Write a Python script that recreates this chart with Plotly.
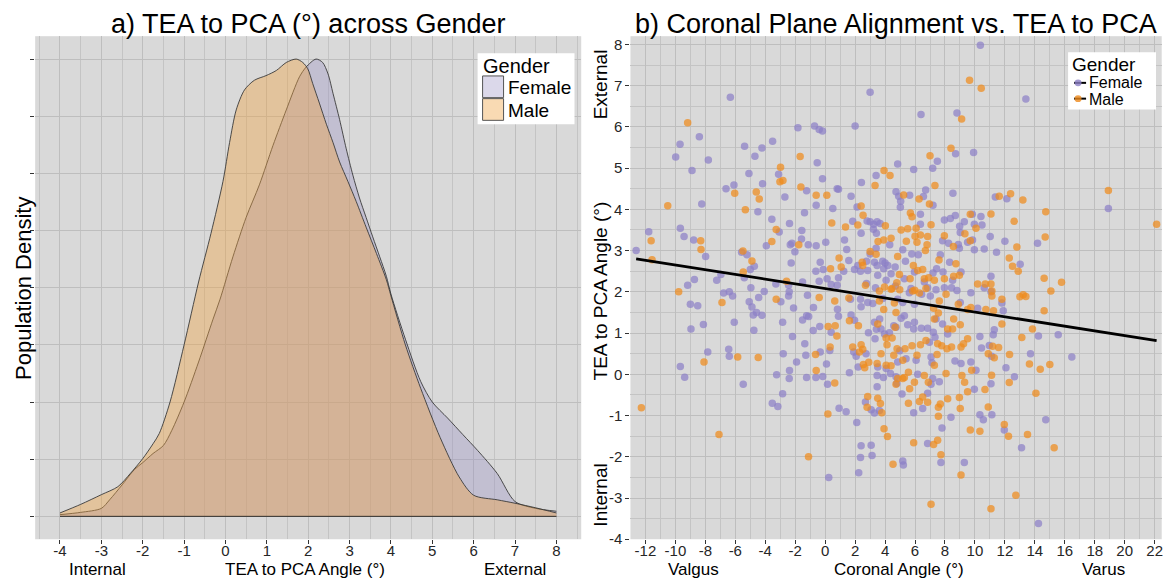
import plotly.graph_objects as go

W, H = 1169, 587
FONT = "Liberation Sans, Arial, Helvetica, sans-serif"

# ---------------- Panel a: density of TEA to PCA angle ----------------
female_density_angle = [-4, -3.5, -3, -2.8, -2.5, -2.2, -2, -1.75, -1.5, -1.3,
                        -1, -0.65, -0.3, -0.13, 0.18, 0.5, 0.82, 1.15, 1.47, 1.79,
                        1.95, 2.19, 2.35, 2.48, 2.6, 2.76, 2.92, 3.08, 3.24, 3.4,
                        3.56, 3.73, 3.89, 4.0, 4.35, 4.72, 5.0, 5.37, 5.74, 6.1,
                        6.57, 7.0, 7.5, 8.0]
female_density = [0.0015, 0.0035, 0.007, 0.0145, 0.0275, 0.041, 0.047, 0.055, 0.062, 0.075,
                  0.1, 0.135, 0.1725, 0.19, 0.227, 0.2615, 0.29, 0.3245, 0.3555, 0.3845,
                  0.393, 0.4, 0.397, 0.387, 0.37, 0.347, 0.3215, 0.2985, 0.2785, 0.2615,
                  0.2445, 0.227, 0.21, 0.1945, 0.155, 0.118, 0.1, 0.086, 0.0715, 0.0575,
                  0.0375, 0.013, 0.007, 0.0045]

male_density_angle = [-4, -3.5, -3, -2.6, -2.3, -2, -1.75, -1.6, -1.34, -1.0,
                      -0.65, -0.35, -0.06, 0.1, 0.26, 0.46, 0.7, 0.98, 1.23, 1.47,
                      1.71, 1.87, 1.99, 2.11, 2.27, 2.44, 2.6, 2.76, 2.96, 3.16,
                      3.4, 3.65, 3.89, 4.0, 4.35, 4.72, 5.19, 5.65, 6.0, 6.57,
                      7.0, 7.5, 8.0]
male_density = [0.003, 0.0105, 0.019, 0.026, 0.0375, 0.0505, 0.0635, 0.0725, 0.1, 0.15,
                0.205, 0.2475, 0.293, 0.327, 0.3555, 0.373, 0.3815, 0.3855, 0.39, 0.397,
                0.4, 0.397, 0.3915, 0.3785, 0.3615, 0.343, 0.327, 0.31, 0.293, 0.2755,
                0.253, 0.23, 0.207, 0.193, 0.15, 0.112, 0.069, 0.0345, 0.0185, 0.0145,
                0.0115, 0.0075, 0.003]

density_ticks = [-4, -3, -2, -1, 0, 1, 2, 3, 4, 5, 6, 7, 8]

# ---------------- Panel b: scatter (coronal angle, TEA to PCA) ----------------
female_points = [
    (-12.62, 3.0), (-11.78, 3.46), (-9.98, 5.27), (-9.69, 5.58), (-8.89, 4.94), (-8.4, 5.76),
    (-8.24, 4.13), (-7.8, 5.2), (-9.67, 3.54), (-9.42, 3.34), (-8.78, 3.26), (-7.98, 2.86),
    (-9.18, 2.16), (-8.73, 2.3), (-7.24, 2.28), (-6.96, 2.42), (-6.33, 6.72), (-6.62, 4.5),
    (-6.09, 4.59), (-5.38, 5.53), (-4.69, 5.29), (-4.22, 5.49), (-5.09, 4.87), (-4.18, 4.62),
    (-4.49, 3.94), (-3.51, 5.65), (-3.56, 3.76), (-3.93, 3.12), (-3.07, 3.45), (-3.11, 4.85),
    (-2.69, 4.3), (-2.38, 3.66), (-2.33, 3.14), (-2.22, 3.18), (-2.02, 2.97), (-2.27, 2.7),
    (-1.56, 3.49), (-1.58, 3.28), (-1.38, 3.92), (-1.24, 4.45), (-1.13, 3.14), (-1.82, 5.98),
    (-0.71, 6.02), (-0.4, 5.94), (-0.18, 5.9), (-0.53, 5.13), (-0.18, 4.74), (-0.6, 4.1),
    (-0.6, 3.12), (0.04, 3.2), (0.51, 4.02), (0.8, 4.5), (-0.33, 2.72), (-0.62, 2.5),
    (-0.13, 2.54), (-0.4, 2.26), (0.13, 2.32), (0.4, 2.18), (-5.58, 2.96), (-5.22, 2.9),
    (-5.0, 2.54), (-4.73, 2.62), (-5.4, 2.34), (-3.29, 2.19), (-1.51, 2.24), (-2.44, 2.16),
    (10.36, 7.98), (3.0, 6.84), (2.0, 6.02), (6.4, 6.3), (8.8, 6.34), (9.91, 5.38),
    (8.71, 5.35), (4.84, 5.1), (5.91, 4.97), (7.49, 5.17), (7.18, 5.0), (3.4, 4.82),
    (2.42, 4.65), (0.89, 4.49), (1.73, 4.32), (4.73, 4.43), (4.91, 4.32), (5.04, 4.2),
    (6.71, 4.47), (6.56, 4.31), (5.64, 4.34), (5.02, 4.05), (7.2, 4.1), (8.53, 4.39),
    (6.36, 3.88), (2.13, 4.06), (1.84, 3.71), (2.8, 3.72), (3.0, 3.7), (3.24, 3.64),
    (3.47, 3.7), (3.67, 3.66), (2.4, 3.42), (3.22, 3.52), (3.42, 3.42), (1.29, 3.26),
    (4.31, 3.14), (3.4, 3.06), (1.44, 3.03), (6.36, 3.64), (7.96, 3.74), (8.36, 3.78),
    (8.69, 3.85), (8.98, 3.59), (9.29, 3.7), (9.02, 3.44), (9.82, 3.88), (10.4, 3.83),
    (9.96, 3.64), (10.47, 3.62), (7.84, 3.24), (8.24, 3.18), (8.89, 3.15), (9.51, 3.2),
    (9.96, 3.02), (10.62, 3.04), (11.02, 3.34), (8.96, 3.06), (9.84, 3.26), (5.18, 3.02),
    (5.78, 2.92), (6.22, 2.9), (5.36, 2.74), (4.67, 2.6), (7.69, 2.9), (8.31, 2.72),
    (7.44, 2.56), (7.2, 2.46), (7.87, 2.48), (8.51, 2.28), (9.07, 2.48), (2.76, 2.74),
    (3.0, 2.92), (3.29, 2.72), (3.47, 2.64), (3.84, 2.74), (4.0, 2.7), (4.18, 2.64),
    (3.91, 2.56), (2.18, 2.64), (1.96, 2.54), (2.36, 2.5), (1.58, 2.76), (1.24, 2.5),
    (2.84, 2.52), (3.51, 2.4), (4.07, 2.28), (4.4, 2.44), (5.29, 2.32), (5.96, 2.48),
    (6.62, 2.24), (6.84, 2.1), (5.73, 2.08), (4.69, 2.14), (3.36, 2.1), (2.76, 2.2),
    (0.89, 2.34), (0.8, 2.16),
    (13.4, 6.68), (11.36, 4.3), (12.13, 4.26), (18.91, 4.02), (12.0, 3.23), (11.44, 2.96),
    (14.18, 3.18), (13.02, 2.67), (11.07, 2.38),
    (-9.0, 1.7), (-8.51, 1.66), (-8.96, 1.1), (-8.13, 1.21), (-7.84, 0.54), (-9.67, 0.19),
    (-9.38, -0.07), (-6.78, 1.97), (-6.4, 2.0), (-6.18, 1.9), (-6.07, 1.26), (-6.44, 0.61),
    (-6.4, 0.44), (-5.47, -0.24), (-4.96, 2.1), (-5.07, 1.76), (-4.89, 1.63), (-4.58, 1.5),
    (-4.8, 1.44), (-4.22, 1.43), (-4.44, 1.86), (-4.07, 2.01), (-4.76, 1.07), (-2.96, 1.76),
    (-2.44, 1.9), (-2.4, 2.0), (-2.84, 1.26), (-2.11, 1.61), (-2.18, 0.92), (-2.8, 0.5),
    (-3.24, -0.01), (-2.38, 0.09), (-2.4, -0.1), (-1.91, 0.3), (-2.84, -0.47), (-3.53, -0.7),
    (-3.16, -0.78), (-1.18, 1.92), (-0.78, 1.62), (-1.51, 1.32), (-1.24, 1.42), (-1.1, 1.4),
    (-0.8, 1.06), (-0.36, 1.16), (-1.36, 0.74), (-1.29, 0.46), (-1.24, -0.08), (-0.62, -0.08),
    (-0.16, -0.05), (-0.33, 0.54), (0.09, 0.25), (0.16, -0.24), (0.31, 0.58), (0.4, 1.02),
    (0.82, 1.58), (0.93, -0.82), (0.24, -2.5),
    (0.89, 1.41), (1.73, 1.44), (1.96, 1.31), (2.4, 1.64), (1.69, 1.82), (2.36, 1.82),
    (2.84, 1.74), (3.18, 1.72), (3.84, 1.84), (4.84, 1.82), (5.18, 1.74), (5.62, 1.98),
    (5.96, 1.7), (6.44, 1.94), (7.4, 2.05), (7.02, 1.9), (7.96, 2.1), (8.44, 2.1),
    (8.8, 2.03), (9.02, 1.74), (9.73, 1.98), (10.18, 1.6), (10.62, 2.1), (11.07, 2.0),
    (3.29, 1.26), (2.89, 1.01), (3.42, 1.09), (3.64, 1.34), (3.73, 1.1), (3.96, 0.98),
    (3.33, 0.86), (4.29, 1.01), (4.58, 1.18), (4.73, 1.14), (5.07, 1.36), (5.29, 1.42),
    (5.51, 1.2), (5.96, 1.26), (5.91, 1.1), (6.42, 1.12), (6.84, 1.12), (7.22, 1.02),
    (7.33, 0.9), (6.96, 0.78), (7.84, 1.22), (8.18, 0.98), (7.4, 1.34), (10.33, 0.92),
    (10.44, 0.64), (10.96, 0.7), (11.11, 0.44), (1.91, 0.54), (2.07, 0.44), (2.73, 0.5),
    (2.2, 0.18), (1.62, 0.04), (3.51, 0.18), (3.47, -0.03), (3.89, -0.08), (4.36, 0.02),
    (4.07, 0.14), (4.73, -0.06), (4.98, 0.57), (4.84, 0.3), (5.4, 0.38), (6.07, 0.34),
    (6.18, 0.0), (7.07, 0.42), (7.13, 0.28), (7.18, -0.1), (7.07, -0.24), (6.84, -0.46),
    (7.62, -0.18), (4.78, -0.22), (5.13, -0.48), (3.47, -0.3), (8.67, 0.32), (9.07, 0.26),
    (9.73, 0.3), (10.07, 0.1), (9.96, -0.36), (11.07, -0.23), (2.69, -0.67), (3.29, -0.94),
    (3.07, -0.86), (3.62, -0.88), (1.4, -0.91), (5.91, -0.93), (6.51, -0.83), (8.4, -1.04),
    (10.33, -0.98), (10.56, -1.1), (7.8, -1.3), (2.11, -1.17), (2.4, -1.73), (3.07, -1.72),
    (2.36, -2.02), (3.13, -1.97), (2.24, -2.39), (5.18, -2.1), (5.22, -2.2), (6.84, -1.68),
    (7.73, -2.14), (9.29, -2.14),
    (11.8, 1.73), (11.89, 1.54), (11.29, 1.08), (11.22, 0.96), (14.24, 0.93), (15.56, 0.96),
    (13.71, 0.5), (16.47, 0.42), (12.07, 0.16), (12.64, -0.06), (11.13, -0.98), (14.73, -1.1),
    (11.96, -1.35), (13.11, -1.78), (14.24, -3.62),
]

male_points = [
    (-9.18, 6.1), (-10.51, 4.09), (-11.62, 3.24), (-11.56, 2.78), (-8.31, 3.24), (-8.29, 3.03),
    (-6.04, 4.39), (-5.33, 3.99), (-4.6, 4.42), (-4.4, 4.25), (-2.98, 5.02), (-3.02, 4.67),
    (-2.82, 4.7), (-1.67, 5.28), (-1.62, 4.54), (-3.27, 3.51), (-3.56, 3.22), (-1.76, 3.14),
    (-5.49, 2.99), (-4.89, 2.75), (-5.47, 2.48), (-0.6, 4.34), (0.11, 4.34), (0.44, 3.67),
    (0.36, 2.56), (0.93, 2.82), (-2.58, 2.26), (-9.78, 2.0),
    (9.64, 7.13), (10.42, 6.94), (9.11, 6.19), (8.4, 5.48), (7.0, 5.3), (3.93, 4.94),
    (4.33, 4.82), (3.33, 4.58), (7.33, 4.58), (5.24, 4.35), (6.27, 4.25), (6.96, 4.13),
    (2.4, 4.08), (2.53, 3.86), (2.18, 3.62), (1.36, 3.57), (5.69, 3.91), (5.8, 3.82),
    (7.07, 3.63), (4.02, 3.6), (5.07, 3.5), (5.51, 3.53), (6.07, 3.54), (6.0, 3.35),
    (6.36, 3.38), (6.84, 3.34), (6.13, 3.2), (6.8, 3.14), (6.69, 3.0), (5.42, 3.23),
    (4.4, 3.3), (3.91, 3.26), (3.53, 3.22), (3.0, 2.98), (3.4, 2.91), (2.47, 2.72),
    (2.51, 2.64), (4.84, 2.86), (5.89, 2.64), (6.18, 2.52), (6.51, 2.54), (4.96, 2.42),
    (5.67, 2.32), (4.78, 2.22), (6.62, 2.32), (6.91, 2.34), (7.6, 2.77), (7.96, 3.36),
    (8.56, 3.1), (9.33, 3.41), (9.69, 3.24), (9.69, 3.88), (10.07, 3.54), (8.73, 2.68),
    (8.96, 2.4), (8.58, 2.38), (7.96, 2.32), (7.29, 2.28), (10.18, 2.19), (10.69, 2.19),
    (2.69, 2.16), (3.96, 2.12), (4.47, 2.08), (5.98, 2.04), (1.07, 2.6),
    (11.62, 4.32), (12.38, 4.38), (13.2, 4.23), (11.07, 3.89), (14.73, 3.94), (18.91, 4.46),
    (12.62, 3.71), (22.13, 3.64), (14.69, 3.33), (12.8, 3.09), (12.29, 2.82), (12.51, 2.62),
    (12.89, 2.5), (11.07, 2.19), (14.62, 2.33), (15.78, 2.23), (15.07, 2.02),
    (-6.89, 1.74), (-8.09, 0.3), (-5.84, 0.42), (-4.47, 0.41), (-12.27, -0.81), (-7.09, -1.46),
    (-3.27, 1.82), (-0.4, 1.86), (0.64, 1.78), (-0.64, 0.48), (-0.6, 0.09), (0.2, 1.16),
    (0.67, 1.18), (0.78, 0.93), (0.33, 0.66), (0.64, -0.21), (0.18, -0.96), (-1.11, -2.0),
    (1.58, 1.85), (3.62, 2.02), (3.62, 1.78), (4.4, 2.06), (4.62, 1.73), (3.91, 1.57),
    (4.73, 1.5), (4.98, 2.05), (5.84, 2.02), (6.29, 1.97), (6.73, 2.08), (7.62, 1.78),
    (7.24, 1.6), (7.29, 1.34), (7.56, 1.49), (8.07, 1.94), (8.58, 1.34), (8.89, 1.7),
    (9.02, 1.2), (9.51, 1.57), (9.73, 1.62), (10.73, 1.57), (11.24, 1.54), (2.22, 1.18),
    (1.62, 1.3), (3.51, 1.22), (4.67, 1.14), (4.07, 0.88), (4.47, 0.88), (4.13, 0.72),
    (4.8, 0.62), (5.33, 0.62), (5.8, 0.69), (6.36, 0.72), (6.73, 0.82), (7.51, 0.74),
    (7.78, 0.69), (8.13, 0.62), (8.44, 0.66), (8.18, 1.1), (8.51, 1.1), (9.07, 0.66),
    (9.24, 0.74), (9.51, 0.86), (10.89, 0.5), (1.84, 0.66), (2.4, 0.72), (2.51, 0.61),
    (2.29, 0.54), (2.91, 0.29), (2.64, 0.16), (2.55, 0.24), (3.47, 0.26), (3.73, 0.5),
    (4.07, 0.22), (4.4, 0.21), (4.58, 0.46), (5.18, 0.34), (6.13, 0.46), (5.29, -0.08),
    (5.18, -0.1), (4.84, -0.1), (5.56, 0.05), (5.96, -0.19), (4.73, -0.24), (5.64, -0.35),
    (6.62, -0.03), (7.29, 0.22), (7.47, 0.48), (6.89, -0.19), (8.07, 0.02), (9.13, -0.03),
    (9.31, -0.19), (9.51, -0.42), (9.78, 0.1), (10.67, -0.37), (11.11, -0.02), (2.84, -0.54),
    (2.8, -0.8), (3.51, -0.58), (3.69, -0.71), (3.78, -0.93), (5.56, -0.7), (6.29, -0.66),
    (6.51, -0.55), (6.84, -0.68), (7.69, -0.72), (7.56, -0.8), (8.18, -0.59), (8.96, -0.56),
    (9.02, -0.83), (7.56, -1.02), (10.89, -0.79), (3.93, -1.32), (4.16, -1.51), (5.91, -1.66),
    (7.24, -1.7), (7.51, -1.6), (7.73, -1.95), (9.69, -1.35), (10.33, -1.38), (4.53, -2.18),
    (9.07, -2.44), (7.07, -3.15), (11.07, -3.26),
    (11.13, 2.02), (11.13, 1.9), (11.8, 1.82), (13.0, 1.88), (13.22, 1.93), (13.4, 1.89),
    (14.62, 1.54), (11.8, 1.22), (13.84, 1.1), (13.13, 0.89), (11.18, 0.68), (11.58, 0.65),
    (11.29, 0.4), (12.31, 0.48), (13.64, 0.25), (14.36, 0.12), (15.0, 0.24), (12.29, -0.2),
    (14.07, -0.46), (11.96, -1.22), (12.24, -1.5), (13.51, -1.46), (15.29, -1.78), (12.73, -2.93),
]

# linear fit
fit_intercept = 2.08
fit_slope = -0.057

coronal_ticks = [-12, -10, -8, -6, -4, -2, 0, 2, 4, 6, 8, 10, 12, 14, 16, 18, 20, 22]
tea_ticks = [-4, -3, -2, -1, 0, 1, 2, 3, 4, 5, 6, 7, 8]

# ---------------- styling ----------------
PANEL_BG = "#D9D9D9"
GRID = "#BEBEBE"
GRID_MINOR = "#C4C4C4"
TICK_COL = "#333333"
FEMALE_FILL = "rgba(153,142,195,0.35)"
MALE_FILL = "rgba(241,163,64,0.40)"
OUTLINE = "#3A3A3A"
FEMALE_PT = "#8C80C6"
MALE_PT = "#EE8A1C"


def px(x):
    return x / W


def py(y):
    return 1 - y / H


female_c = [p[0] for p in female_points]
female_t = [p[1] for p in female_points]
male_c = [p[0] for p in male_points]
male_t = [p[1] for p in male_points]

fig = go.Figure()

# density areas (Female drawn first, Male on top)
for xs, ys, fill in [(female_density_angle, female_density, FEMALE_FILL),
                     (male_density_angle, male_density, MALE_FILL)]:
    fig.add_trace(go.Scatter(x=xs, y=ys, mode="lines", fill="tozeroy", fillcolor=fill,
                             line=dict(color=OUTLINE, width=0.9, shape="spline", smoothing=0.8),
                             xaxis="x", yaxis="y", showlegend=False, hoverinfo="skip"))
    fig.add_trace(go.Scatter(x=[xs[0], xs[-1]], y=[0, 0], mode="lines",
                             line=dict(color=OUTLINE, width=0.9),
                             xaxis="x", yaxis="y", showlegend=False, hoverinfo="skip"))

# scatter points
fig.add_trace(go.Scatter(x=female_c, y=female_t, mode="markers",
                         marker=dict(color=FEMALE_PT, size=7.5, opacity=0.72, line=dict(width=0)),
                         xaxis="x2", yaxis="y2", showlegend=False, name="Female"))
fig.add_trace(go.Scatter(x=male_c, y=male_t, mode="markers",
                         marker=dict(color=MALE_PT, size=7.5, opacity=0.72, line=dict(width=0)),
                         xaxis="x2", yaxis="y2", showlegend=False, name="Male"))

# regression line across the data range
all_c = female_c + male_c
x_lo, x_hi = min(all_c), max(all_c)
fig.add_trace(go.Scatter(x=[x_lo, x_hi],
                         y=[fit_intercept + fit_slope * x_lo, fit_intercept + fit_slope * x_hi],
                         mode="lines", line=dict(color="black", width=2.8),
                         xaxis="x2", yaxis="y2", showlegend=False, hoverinfo="skip"))

dom_y = [py(546.7), py(36.7)]
axis_common = dict(showline=False, zeroline=False, ticks="outside", ticklen=4,
                   tickwidth=1, tickcolor=TICK_COL, gridcolor=GRID, gridwidth=1,
                   tickfont=dict(family=FONT, size=15, color="#262626"))

fig.update_layout(
    width=W, height=H, autosize=False,
    margin=dict(l=0, r=0, t=0, b=0),
    paper_bgcolor="white", plot_bgcolor=PANEL_BG,
    font=dict(family=FONT, color="black"),
    showlegend=False, hovermode=False,
    xaxis=dict(domain=[px(35.2), px(581.7)], range=[-4.6, 8.6], anchor="y",
               tickmode="array", tickvals=density_ticks,
               ticktext=[str(v) for v in density_ticks], ticklabelstandoff=-6,
               minor=dict(dtick=0.5, tick0=0, showgrid=True, gridcolor=GRID_MINOR, gridwidth=1,
                          ticks=""),
               **axis_common),
    yaxis=dict(domain=dom_y, range=[-0.02, 0.42], anchor="x", dtick=0.05, tick0=0,
               showticklabels=False, **axis_common),
    xaxis2=dict(domain=[px(631), px(1162.7)], range=[-13, 22.47], anchor="y2",
                tickmode="array", tickvals=coronal_ticks,
                ticktext=[str(v) for v in coronal_ticks], ticklabelstandoff=-6,
                minor=dict(dtick=1, tick0=0, showgrid=True, gridcolor=GRID_MINOR, gridwidth=1,
                           ticks=""),
                **axis_common),
    yaxis2=dict(domain=dom_y, range=[-4.0, 8.2], anchor="x2",
                tickmode="array", tickvals=tea_ticks, ticktext=[str(v) for v in tea_ticks],
                minor=dict(dtick=0.5, tick0=0, showgrid=True, gridcolor=GRID_MINOR, gridwidth=1,
                           ticks=""),
                **axis_common),
)

ann = []


def text(x, y, s, size, angle=0, xanchor="center", color="black"):
    ann.append(dict(x=px(x), y=py(y), xref="paper", yref="paper", text=s, showarrow=False,
                    xanchor=xanchor, yanchor="middle", textangle=angle, borderpad=0,
                    font=dict(family=FONT, size=size, color=color)))


# titles
text(308, 24, "a) TEA to PCA (°) across Gender", 27)
text(897, 24, "b) Coronal Plane Alignment vs. TEA to PCA", 27)
# panel a axis titles
text(23, 292, "Population Density", 22, angle=-90)
text(98, 577.5, "Internal", 17)
text(305, 577.5, "TEA to PCA Angle (°)", 17)
text(515, 577.5, "External", 17)
# panel b axis titles
text(601, 85, "External", 19, angle=-90)
text(601, 295, "TEA to PCA Angle (°)", 19, angle=-90)
text(601, 502, "Internal", 19, angle=-90)
text(694, 577.5, "Valgus", 17)
text(900, 577.5, "Coronal Angle (°)", 17)
text(1104, 577.5, "Varus", 17)

# legend a
shapes = []
shapes.append(dict(type="rect", xref="paper", yref="paper", x0=px(478), x1=px(575),
                   y0=py(126), y1=py(54), fillcolor="white", line=dict(width=0), layer="above"))
for (y0, y1, fill) in [(77, 99, FEMALE_FILL), (100, 122, MALE_FILL)]:
    shapes.append(dict(type="rect", xref="paper", yref="paper", x0=px(483), x1=px(504),
                       y0=py(y1), y1=py(y0), fillcolor=fill,
                       line=dict(color="#555555", width=1), layer="above"))
text(482, 67, "Gender", 20, xanchor="left")
text(507, 89, "Female", 19, xanchor="left")
text(507, 112, "Male", 19, xanchor="left")

# legend b (compact, as in the reference)
shapes.append(dict(type="rect", xref="paper", yref="paper", x0=px(1069), x1=px(1157),
                   y0=py(111), y1=py(53), fillcolor="white", line=dict(width=0), layer="above"))
for yk, col in [(84, FEMALE_PT), (100, MALE_PT)]:
    shapes.append(dict(type="line", xref="paper", yref="paper", x0=px(1075), x1=px(1087),
                       y0=py(yk), y1=py(yk), line=dict(color="black", width=2), layer="above"))
    shapes.append(dict(type="circle", xref="paper", yref="paper", x0=px(1075.5), x1=px(1082.5),
                       y0=py(yk + 3.5), y1=py(yk - 3.5), fillcolor=col, opacity=0.8,
                       line=dict(width=0), layer="above"))
text(1072, 65, "Gender", 19, xanchor="left")
text(1089, 84, "Female", 16, xanchor="left")
text(1089, 101, "Male", 16, xanchor="left")

fig.update_layout(annotations=ann, shapes=shapes)

# remove the browser's default 8px body margin so the figure fills the window exactly
fig.write_html("out.html",
               config={"displayModeBar": False, "staticPlot": True},
               post_script="document.body.style.margin='0px';"
                           "document.documentElement.style.overflow='hidden';")
